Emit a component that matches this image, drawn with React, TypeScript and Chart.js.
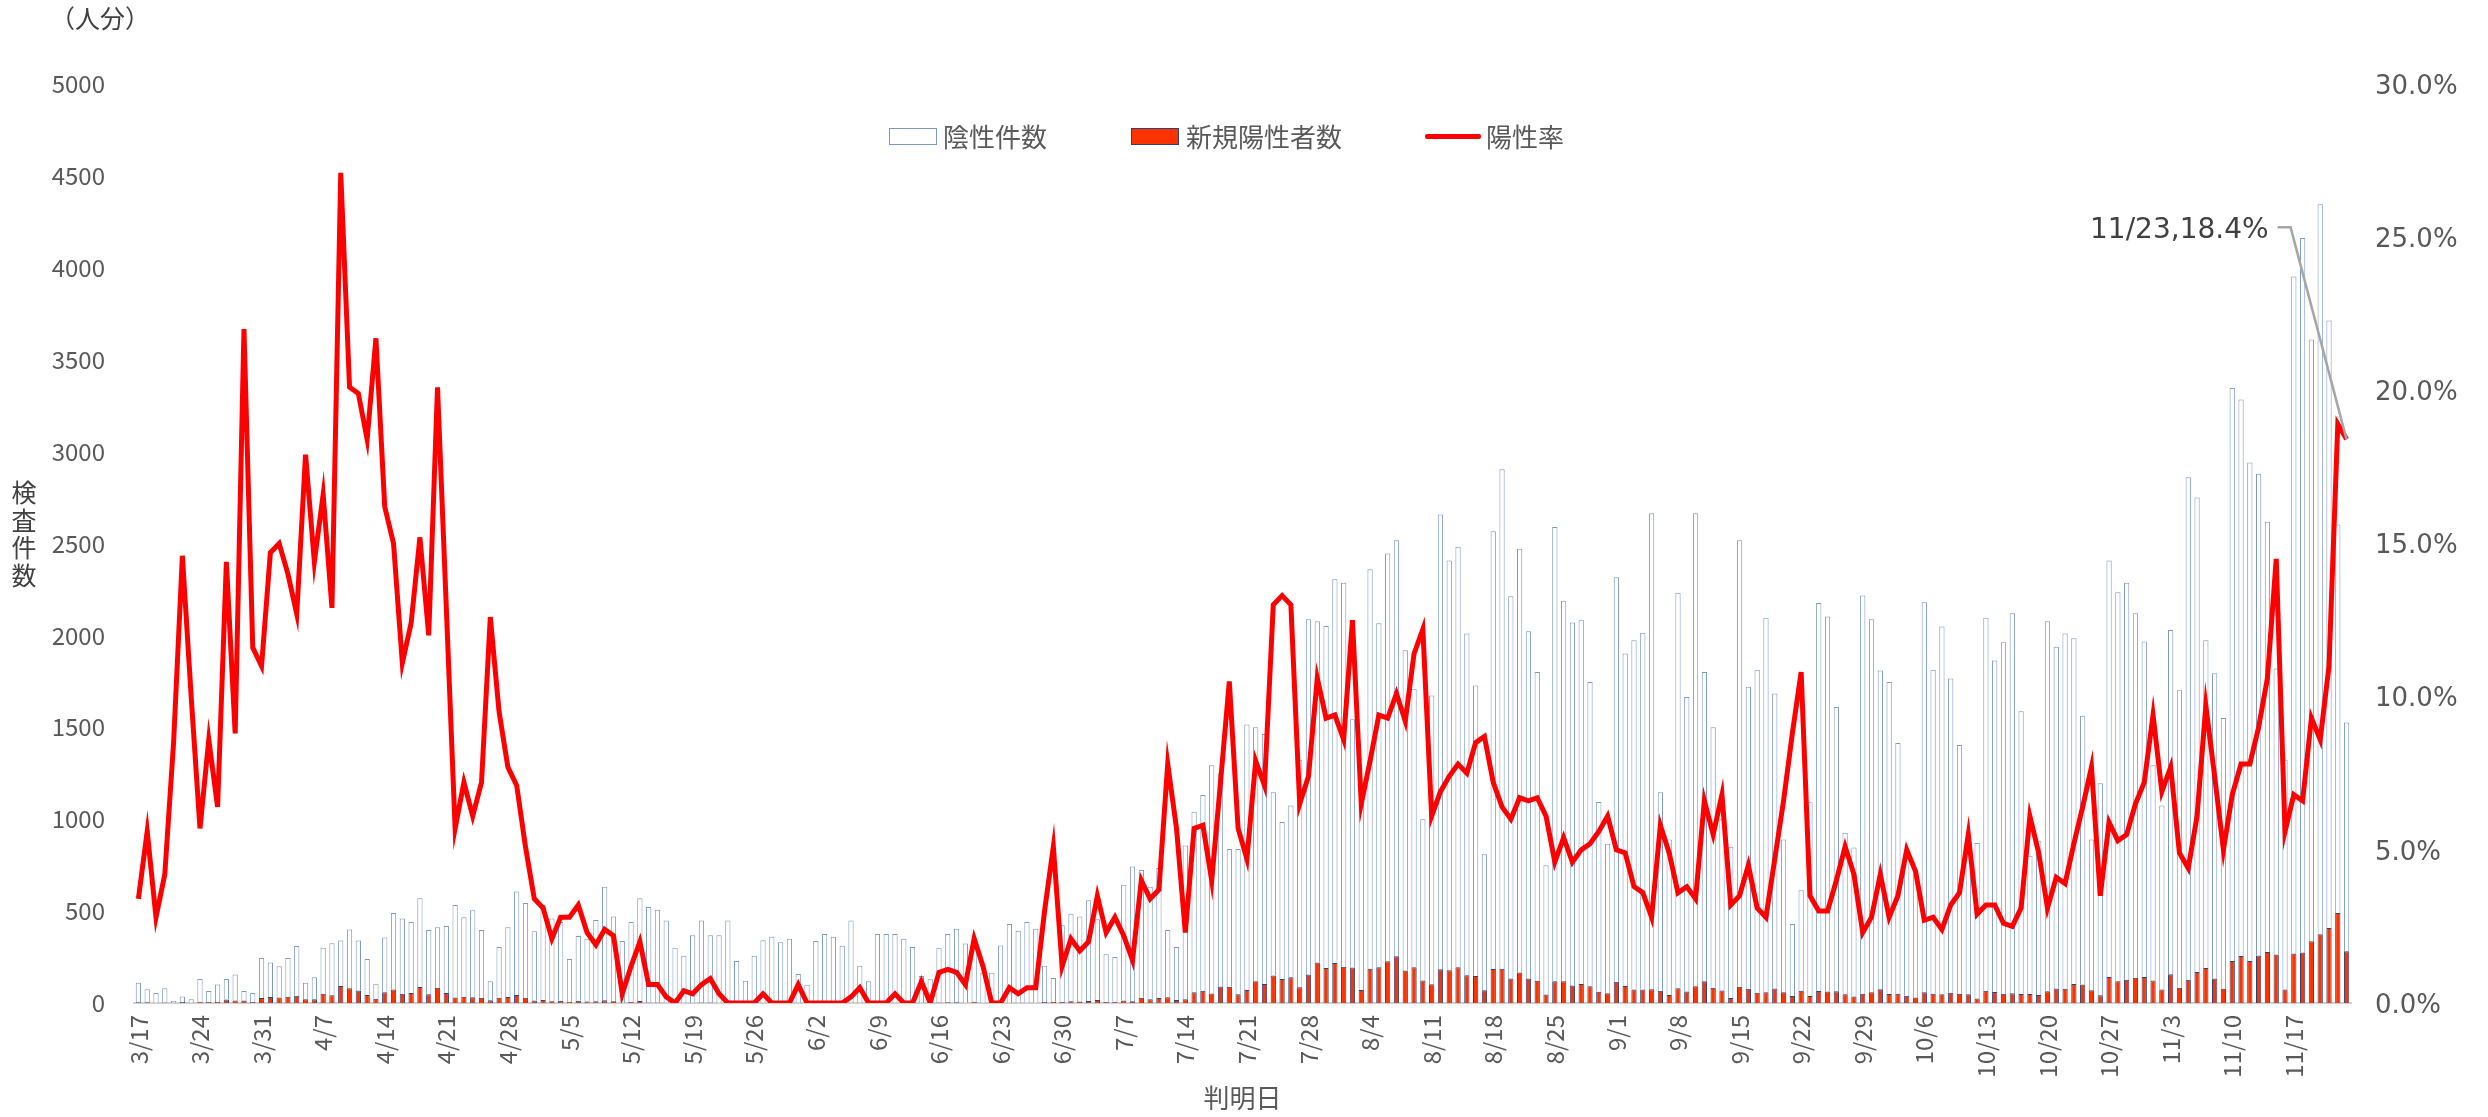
import React, { useEffect, useRef } from 'react';
import { Chart, registerables } from 'chart.js';

Chart.register(...registerables);

// Calendar range of the chart (判明日): 3/17 .. 11/23
const MONTH_RANGES: number[][] = [
  [3, 17, 31], [4, 1, 30], [5, 1, 31], [6, 1, 30], [7, 1, 31],
  [8, 1, 31], [9, 1, 30], [10, 1, 31], [11, 1, 23],
];
const dates: string[] = [];
for (const [m, s, e] of MONTH_RANGES) for (let d = s; d <= e; d++) dates.push(`${m}/${d}`);

const TICK_EVERY = 7;
const leftTicks = [0, 500, 1000, 1500, 2000, 2500, 3000, 3500, 4000, 4500, 5000];
const rightTicks = [0, 5, 10, 15, 20, 25, 30];

// 検査件数 (total height of each stacked bar)
const totalTests: number[] = [
  110, 75, 55, 80, 12, 35, 20,
  130, 65, 100, 130, 155, 65, 55,
  245, 220, 200, 245, 310, 110, 140,
  300, 325, 340, 400, 340, 240, 105,
  357, 489, 460, 441, 570, 397, 412,
  419, 533, 467, 504, 397, 118, 305,
  412, 607, 544, 390, 533, 460, 441,
  239, 364, 349, 452, 632, 470, 338,
  441, 570, 522, 507, 449, 301, 257,
  368, 449, 368, 368, 449, 228, 121,
  257, 342, 360, 331, 349, 158, 99,
  338, 375, 360, 312, 449, 202, 118,
  375, 375, 375, 349, 305, 147, 129,
  301, 375, 404, 324, 330, 165, 165,
  313, 430, 393, 441, 404, 202, 136,
  423, 485, 470, 559, 456, 265, 250,
  643, 743, 724, 632, 735, 397, 305,
  857, 1040, 1132, 1294, 1250, 838, 838,
  1515, 1500, 1463, 1147, 985, 1074, 1324,
  2088, 2077, 2051, 2305, 2287, 1544, 1085,
  2360, 2066, 2445, 2518, 1919, 1710, 1000,
  1673, 2658, 2408, 2482, 2011, 1728, 809,
  2566, 2904, 2213, 2471, 2022, 1801, 750,
  2590, 2188, 2070, 2085, 1746, 1094, 866,
  2316, 1901, 1974, 2015, 2665, 1147, 890,
  2232, 1665, 2665, 1801, 1500, 1000, 850,
  2518, 1721, 1813, 2096, 1684, 890, 430,
  614, 1092, 2176, 2103, 1610, 926, 846,
  2217, 2088, 1809, 1746, 1415, 800, 700,
  2180, 1813, 2048, 1765, 1404, 850, 871,
  2096, 1864, 1963, 2121, 1588, 801, 880,
  2077, 1938, 2011, 1985, 1563, 890, 1195,
  2408, 2235, 2287, 2121, 1967, 1294, 1074,
  2029, 1702, 2860, 2750, 1974, 1794, 1551,
  3346, 3283, 2941, 2879, 2618, 1820, 1324,
  3952, 4162, 3610, 4346, 3713, 2603, 1526,
];

// 新規陽性者数
const newPositives: number[] = [
  4, 4, 2, 3, 1, 5, 2,
  7, 6, 6, 19, 14, 14, 6,
  27, 32, 30, 34, 39, 20, 20,
  50, 42, 92, 80, 68, 44, 23,
  58, 73, 51, 55, 87, 48, 83,
  54, 30, 34, 31, 29, 15, 29,
  32, 43, 28, 13, 17, 10, 12,
  7, 12, 8, 9, 15, 10, 1,
  5, 11, 3, 3, 1, 0, 1,
  1, 3, 3, 1, 0, 0, 0,
  0, 1, 0, 0, 0, 1, 0,
  0, 0, 0, 0, 1, 1, 0,
  0, 0, 1, 0, 0, 1, 0,
  3, 4, 4, 2, 7, 2, 0,
  0, 2, 1, 2, 2, 6, 7,
  5, 10, 8, 11, 16, 6, 7,
  14, 10, 29, 21, 27, 31, 17,
  20, 59, 66, 52, 90, 88, 48,
  71, 119, 104, 149, 131, 140, 86,
  155, 220, 191, 217, 197, 193, 71,
  186, 194, 227, 254, 177, 195, 122,
  102, 183, 178, 194, 151, 147, 70,
  185, 186, 133, 166, 133, 121, 46,
  119, 118, 95, 104, 91, 61, 53,
  116, 92, 74, 73, 75, 67, 43,
  80, 62, 91, 119, 83, 68, 27,
  88, 77, 56, 59, 79, 59, 38,
  66, 38, 65, 63, 64, 47, 36,
  51, 58, 75, 49, 50, 40, 30,
  59, 50, 48, 56, 51, 47, 25,
  67, 60, 51, 53, 49, 49, 43,
  64, 79, 78, 103, 100, 69, 42,
  141, 118, 126, 138, 142, 122, 74,
  156, 83, 126, 168, 191, 133, 78,
  228, 256, 229, 259, 278, 264, 74,
  269, 275, 336, 374, 408, 490, 281,
];

// 陽性率 (%)
const positiveRate: number[] = [
  3.4, 5.6, 2.8, 4.2, 8.5, 14.6, 10.0,
  5.7, 8.6, 6.4, 14.4, 8.8, 22.0, 11.6,
  11.0, 14.7, 15.0, 14.0, 12.7, 17.9, 14.4,
  16.6, 12.9, 27.1, 20.1, 19.9, 18.4, 21.7,
  16.2, 15.0, 11.1, 12.4, 15.2, 12.0, 20.1,
  12.9, 5.7, 7.2, 6.1, 7.2, 12.6, 9.5,
  7.7, 7.1, 5.1, 3.4, 3.1, 2.1, 2.8,
  2.8, 3.2, 2.3, 1.9, 2.4, 2.2, 0.3,
  1.2, 2.0, 0.6, 0.6, 0.2, 0.0, 0.4,
  0.3, 0.6, 0.8, 0.3, 0.0, 0.0, 0.0,
  0.0, 0.3, 0.0, 0.0, 0.0, 0.6, 0.0,
  0.0, 0.0, 0.0, 0.0, 0.2, 0.5, 0.0,
  0.0, 0.0, 0.3, 0.0, 0.0, 0.7, 0.0,
  1.0, 1.1, 1.0, 0.6, 2.1, 1.2, 0.0,
  0.0, 0.5, 0.3, 0.5, 0.5, 3.0, 5.1,
  1.2, 2.1, 1.7, 2.0, 3.5, 2.3, 2.8,
  2.2, 1.4, 4.0, 3.4, 3.7, 7.8, 5.7,
  2.3, 5.7, 5.8, 4.0, 7.2, 10.5, 5.7,
  4.7, 7.9, 7.1, 13.0, 13.3, 13.0, 6.5,
  7.4, 10.6, 9.3, 9.4, 8.6, 12.5, 6.5,
  7.9, 9.4, 9.3, 10.1, 9.2, 11.4, 12.2,
  6.1, 6.9, 7.4, 7.8, 7.5, 8.5, 8.7,
  7.2, 6.4, 6.0, 6.7, 6.6, 6.7, 6.1,
  4.6, 5.4, 4.6, 5.0, 5.2, 5.6, 6.1,
  5.0, 4.9, 3.8, 3.6, 2.8, 5.8, 4.9,
  3.6, 3.8, 3.4, 6.6, 5.5, 6.8, 3.2,
  3.5, 4.5, 3.1, 2.8, 4.7, 6.6, 8.8,
  10.8, 3.5, 3.0, 3.0, 4.0, 5.1, 4.2,
  2.3, 2.8, 4.2, 2.8, 3.5, 5.0, 4.3,
  2.7, 2.8, 2.4, 3.2, 3.6, 5.5, 2.9,
  3.2, 3.2, 2.6, 2.5, 3.1, 6.1, 4.9,
  3.1, 4.1, 3.9, 5.2, 6.4, 7.7, 3.5,
  5.9, 5.3, 5.5, 6.5, 7.2, 9.4, 6.9,
  7.7, 4.9, 4.4, 6.1, 9.7, 7.4, 5.0,
  6.8, 7.8, 7.8, 9.0, 10.6, 14.5, 5.6,
  6.8, 6.6, 9.3, 8.6, 11.0, 18.9, 18.4,
];

// negatives stacked on top of positives so that the bar top equals the test count
const negatives = totalTests.map((t, i) => t - newPositives[i]);

const LAST = dates.length - 1;
const annotationText = `${dates[LAST]},${positiveRate[LAST].toFixed(1)}%`;

const JP = '"Noto Sans CJK JP", "Noto Sans", sans-serif';
const WIDE = '"DejaVu Sans", Verdana, sans-serif';
const GRAY = '#595959';
const NEG_BORDER = '#7C98C4';

const annotationPlugin = {
  id: 'lastPointAnnotation',
  afterDatasetsDraw(chart: any) {
    const meta = chart.getDatasetMeta(0);
    const pt = meta.data[LAST];
    if (!pt) return;
    const { x, y } = pt;
    const ctx = chart.ctx;
    ctx.save();
    ctx.strokeStyle = '#A6A6A6';
    ctx.lineWidth = 2.5;
    ctx.beginPath();
    ctx.moveTo(x - 69, y - 212);
    ctx.lineTo(x - 56, y - 212);
    ctx.lineTo(x, y);
    ctx.stroke();
    ctx.font = `28px ${WIDE}`;
    ctx.fillStyle = '#404040';
    ctx.textAlign = 'right';
    ctx.textBaseline = 'middle';
    ctx.fillText(annotationText, x - 78, y - 209);
    ctx.restore();
  },
};

export default function App() {
  const canvasRef = useRef<HTMLCanvasElement>(null);

  useEffect(() => {
    const canvas = canvasRef.current;
    if (!canvas) return;
    const chart = new Chart(canvas, {
      type: 'bar',
      data: {
        labels: dates,
        datasets: [
          {
            type: 'line',
            label: '陽性率',
            data: positiveRate,
            yAxisID: 'y1',
            borderColor: '#FF0000',
            backgroundColor: '#FF0000',
            borderWidth: 5,
            pointRadius: 0,
            tension: 0,
            fill: false,
            order: 0,
          } as any,
          {
            type: 'bar',
            label: '新規陽性者数',
            data: newPositives,
            yAxisID: 'y',
            stack: 's',
            backgroundColor: '#FF3300',
            borderColor: '#264478',
            borderWidth: 1,
            barPercentage: 0.6,
            categoryPercentage: 1,
            order: 1,
          },
          {
            type: 'bar',
            label: '陰性件数',
            data: negatives,
            yAxisID: 'y',
            stack: 's',
            backgroundColor: '#FFFFFF',
            borderColor: NEG_BORDER,
            borderWidth: 1,
            barPercentage: 0.6,
            categoryPercentage: 1,
            order: 2,
          },
        ],
      },
      options: {
        responsive: false,
        animation: false,
        layout: { padding: { top: 84, left: 0, right: 0, bottom: 0 } },
        plugins: { legend: { display: false }, tooltip: { enabled: false } },
        scales: {
          x: {
            stacked: true,
            grid: { display: false, drawTicks: false },
            border: { display: true, color: '#D0D0D0', width: 2 },
            ticks: {
              autoSkip: false,
              minRotation: 90,
              maxRotation: 90,
              padding: 12,
              color: GRAY,
              font: { family: JP, size: 24 },
              callback: (_v: any, index: number) => (index % TICK_EVERY === 0 ? dates[index] : ''),
            },
            title: {
              display: true,
              text: '判明日',
              color: GRAY,
              font: { family: JP, size: 26 },
              padding: { top: 0, bottom: 3 },
            },
            afterFit: (scale: any) => { scale.height = 114; },
          },
          y: {
            stacked: true,
            position: 'left',
            min: leftTicks[0],
            max: leftTicks[leftTicks.length - 1],
            grid: { display: false, drawTicks: false },
            border: { display: false },
            ticks: {
              stepSize: leftTicks[1] - leftTicks[0],
              padding: 29,
              color: GRAY,
              font: { family: JP, size: 24 },
              callback: (v: any) => String(v),
            },
            afterFit: (scale: any) => { scale.width = 134; },
          },
          y1: {
            position: 'right',
            min: rightTicks[0],
            max: rightTicks[rightTicks.length - 1],
            grid: { display: false, drawTicks: false },
            border: { display: false },
            ticks: {
              stepSize: rightTicks[1] - rightTicks[0],
              padding: 24,
              labelOffset: 3,
              color: GRAY,
              font: { family: WIDE, size: 26 },
              callback: (v: any) => `${Number(v).toFixed(1)}%`,
            },
            afterFit: (scale: any) => { scale.width = 137; },
          },
        },
      },
      plugins: [annotationPlugin],
    });
    return () => chart.destroy();
  }, []);

  const legendText: React.CSSProperties = {
    position: 'absolute',
    top: 136,
    transform: 'translateY(-50%)',
    fontFamily: JP,
    fontSize: 26,
    color: GRAY,
    lineHeight: 1,
    whiteSpace: 'nowrap',
  };

  return (
    <div style={{ position: 'absolute', left: 0, top: 0, width: 2488, height: 1117, background: '#FFFFFF', overflow: 'hidden' }}>
      <canvas ref={canvasRef} width={2488} height={1117} style={{ position: 'absolute', left: 0, top: 0, width: 2488, height: 1117 }} />
      <div style={{ position: 'absolute', left: 50, top: 2, fontFamily: JP, fontSize: 25, color: '#404040', lineHeight: '30px', whiteSpace: 'nowrap' }}>（人分）</div>
      <div style={{ position: 'absolute', left: 11, top: 478, width: 26, fontFamily: JP, fontSize: 25, color: '#404040', lineHeight: '27.5px', textAlign: 'center' }}>
        {['検', '査', '件', '数'].map((c) => (<div key={c}>{c}</div>))}
      </div>
      <div style={{ position: 'absolute', left: 889, top: 128, width: 46, height: 15, background: '#FFFFFF', border: `1px solid ${NEG_BORDER}` }} />
      <div style={{ ...legendText, left: 943 }}>陰性件数</div>
      <div style={{ position: 'absolute', left: 1131, top: 128, width: 46, height: 15, background: '#FF3300', border: '1px solid #264478' }} />
      <div style={{ ...legendText, left: 1186 }}>新規陽性者数</div>
      <div style={{ position: 'absolute', left: 1425, top: 133.5, width: 56, height: 5, background: '#FF0000', borderRadius: 2 }} />
      <div style={{ ...legendText, left: 1486 }}>陽性率</div>
    </div>
  );
}
